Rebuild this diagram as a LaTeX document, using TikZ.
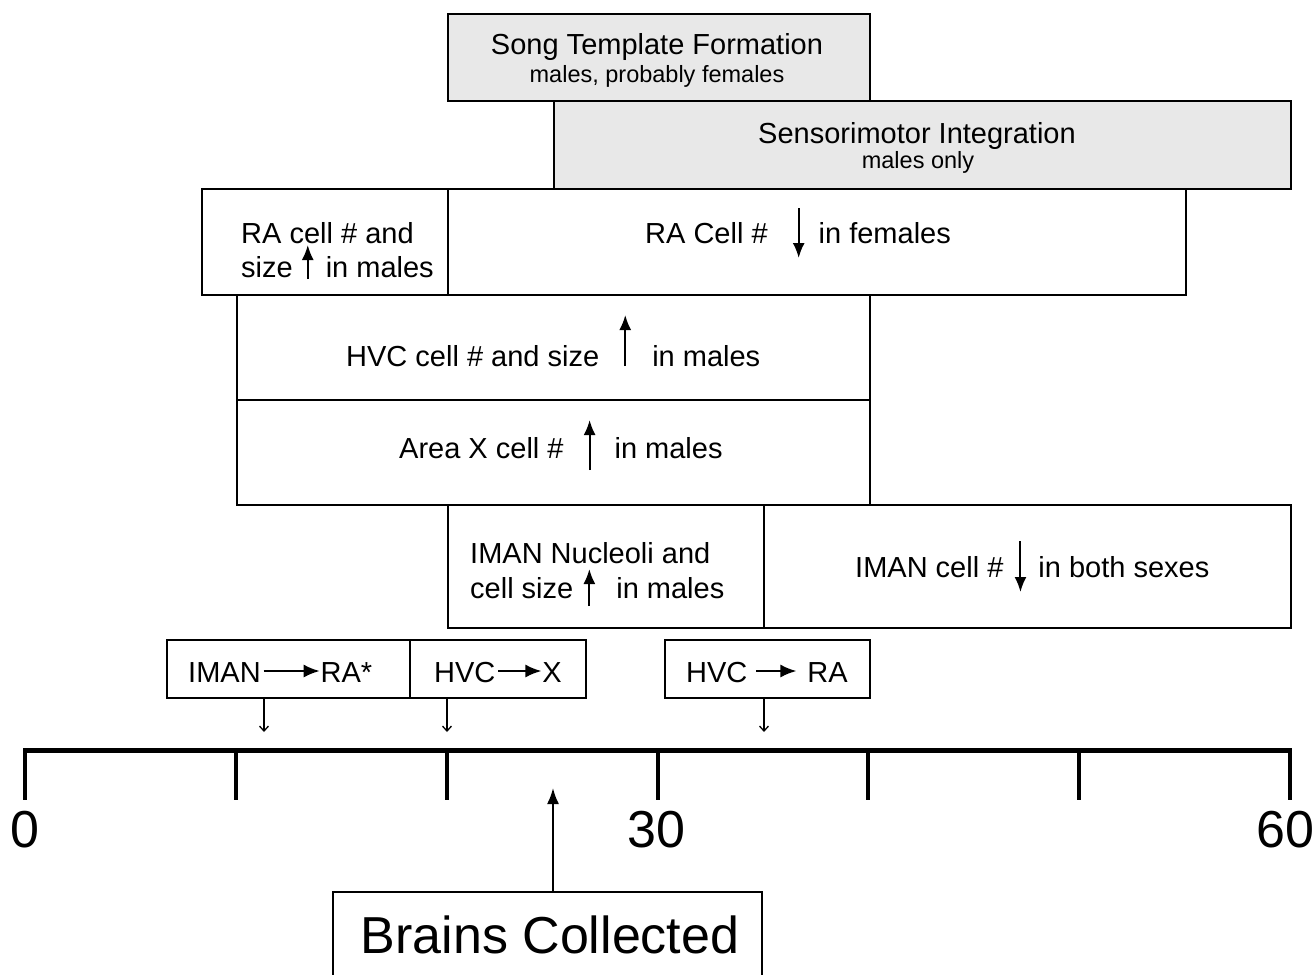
\documentclass[tikz,border=0pt]{standalone}
\usepackage{fontspec}
\setmainfont{Liberation Sans}
\usepackage{tikz}
\usetikzlibrary{arrows.meta}
\definecolor{boxgray}{RGB}{232,232,232}
% little arrows set inside the text
\newcommand{\vertarr}[2]{\tikz[baseline=0pt]\draw[line width=2pt,-{Latex[length=15pt,width=12pt]}] (0pt,#1pt) -- (0pt,#2pt);}
\newcommand{\horarr}[1]{\tikz[baseline=0pt]\draw[line width=2pt,-{Latex[length=16pt,width=13pt]}] (0pt,11pt) -- (#1pt,11pt);}

\begin{document}
\begin{tikzpicture}[x=1pt,y=-1pt]
\tikzstyle{box}=[draw,line width=1.6pt,inner sep=0pt,shape=rectangle];
\tikzstyle{grey}=[box,fill=boxgray];
\tikzstyle{txt}=[inner sep=0pt,font=\fontsize{29}{34}\selectfont];
\tikzstyle{small}=[inner sep=0pt,font=\fontsize{23.5}{28}\selectfont];
\tikzstyle{big}=[inner sep=0pt,font=\fontsize{52}{60}\selectfont];
\useasboundingbox (0,0) rectangle (1316,974);
\clip (0,0) rectangle (1316,974);
% boxes
\node[grey,minimum width=422pt,minimum height=87pt] (song) at (659,57.5) {};
\node[grey,minimum width=737pt,minimum height=88pt] (sens) at (922.5,145) {};
\node[box,minimum width=246pt,minimum height=106pt] (raL) at (325,242) {};
\node[box,minimum width=738pt,minimum height=106pt] (raR) at (817,242) {};
\node[box,minimum width=633pt,minimum height=105pt] (hvc) at (553.5,347.5) {};
\node[box,minimum width=633pt,minimum height=105pt] (areax) at (553.5,452.5) {};
\node[box,minimum width=316pt,minimum height=123pt] (imanL) at (606,566.5) {};
\node[box,minimum width=527pt,minimum height=123pt] (imanR) at (1027.5,566.5) {};
\node[box,minimum width=243pt,minimum height=58pt] (projA) at (288.5,669) {};
\node[box,minimum width=176pt,minimum height=58pt] (projB) at (498,669) {};
\node[box,minimum width=205pt,minimum height=58pt] (projC) at (767.5,669) {};
\node[box,minimum width=429pt,minimum height=118pt] (brains) at (547.5,951) {};
% texts
\node[txt,anchor=base] (songt) at (657,55) {Song Template Formation};
\node[small,anchor=base] (songs) at (657,82) {males, probably females};
\node[txt,anchor=base] (senst) at (917,143) {Sensorimotor Integration};
\node[small,anchor=base] (senss) at (918,168) {males only};
\node[txt,anchor=base west] (ral1) at (241,243) {RA cell \# and};
\node[txt,anchor=base west] (ral2) at (241,277) {size\hspace{9pt}\vertarr{-2}{32}\hspace{12pt}in males};
\node[txt,anchor=base west] (rar) at (645,243) {RA Cell \#\hspace{25pt}\vertarr{35}{-15}\hspace{14pt}in females};
\node[txt,anchor=base west] (hvct) at (346,366) {HVC cell \# and size\hspace{20pt}\vertarr{0}{51}\hspace{21pt}in males};
\node[txt,anchor=base west] (areat) at (399,458) {Area X cell \#\hspace{20pt}\vertarr{-12}{38}\hspace{19pt}in males};
\node[txt,anchor=base west] (imanl1) at (470,563) {IMAN Nucleoli and};
\node[txt,anchor=base west] (imanl2) at (470,598) {cell size\hspace{10pt}\vertarr{-8}{29}\hspace{21pt}in males};
\node[txt,anchor=base west] (imanr) at (855,577) {IMAN cell \#\hspace{11pt}\vertarr{36}{-15}\hspace{12pt}in both sexes};
\node[txt,anchor=base west] (pa) at (188,682) {IMAN\hspace{2pt}\horarr{56}RA*};
\node[txt,anchor=base west] (pb) at (434,682) {HVC\hspace{2pt}\horarr{43}X};
\node[txt,anchor=base west] (pc) at (686,682) {HVC\hspace{8pt}\horarr{40}\hspace{10pt}RA};
% small arrows down to the time line
\coordinate (ta) at (264,732);
\coordinate (tb) at (447,732);
\coordinate (tc) at (764,732);
\draw[line width=1.3pt,-{Straight Barb[length=5pt,width=9pt]}] (projA.south -| ta) -- (ta);
\draw[line width=1.3pt,-{Straight Barb[length=5pt,width=9pt]}] (projB.south -| tb) -- (tb);
\draw[line width=1.3pt,-{Straight Barb[length=5pt,width=9pt]}] (projC.south -| tc) -- (tc);
% time line
\coordinate (axl) at (25,750);
\coordinate (axr) at (1290,750);
\draw[line width=5pt] (axl) -- (axr);
\foreach \k in {0,...,6}
  \draw[line width=4pt] (25+\k*210.83,748) -- (25+\k*210.83,800);
\node[big,anchor=base] (n0) at (25,847) {0};
\node[big,anchor=base] (n30) at (656,847) {30};
\node[big,anchor=base east] (n60) at (1315,847) {60};
% brains
\node[big,anchor=base] (brainst) at (550,953) {Brains Collected};
\coordinate (tip) at (553,788);
\draw[line width=2pt,-{Latex[length=16pt,width=12pt]}] (brains.north -| tip) -- (tip);
\end{tikzpicture}
\end{document}
